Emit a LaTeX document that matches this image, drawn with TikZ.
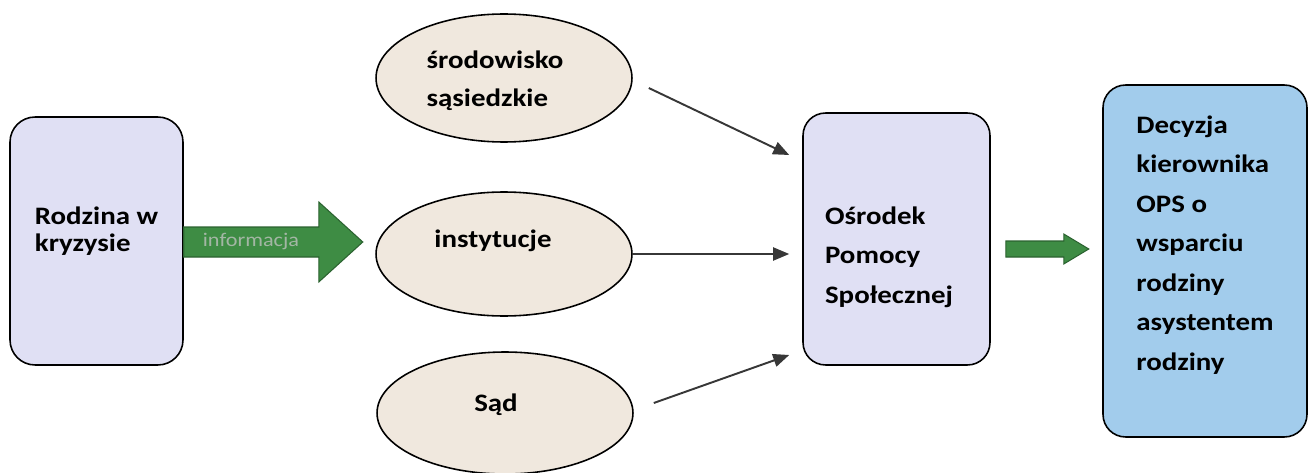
\documentclass[tikz,border=0pt]{standalone}
\usepackage{fontspec}
\setmainfont{Carlito}[FakeStretch=1.15]
\usetikzlibrary{shapes.geometric, arrows.meta, positioning, calc}
\definecolor{boxcolor}{RGB}{224,224,244}
\definecolor{ovalcolor}{RGB}{240,232,222}
\definecolor{decisioncolor}{RGB}{162,204,236}
\definecolor{arrowgreen}{RGB}{62,140,68}
\definecolor{linkcolor}{RGB}{55,55,55}

\begin{document}
\begin{tikzpicture}[
    x=0.02cm, y=-0.02cm,
    box/.style={draw, line width=0.9pt, rounded corners=0.45cm, fill=boxcolor},
    oval/.style={draw, ellipse, line width=0.9pt, fill=ovalcolor, minimum width=5.12cm},
    txt/.style={align=left, inner sep=0pt, font=\fontsize{14.3}{22.5}\selectfont\bfseries},
    link/.style={-{Triangle[length=3.2mm, width=2.6mm]}, line width=1.1pt, color=linkcolor},
    fatarrow/.style={fill=arrowgreen, draw=arrowgreen!70!black, line width=0.6pt}
]
    \useasboundingbox (0,0) rectangle (1308,473);

    % Family and sources
    \node[box, minimum width=3.46cm, minimum height=4.96cm, rounded corners=0.5cm,
          label={[txt, yshift=0.2cm, font=\fontsize{14.3}{15.5}\selectfont\bfseries]center:{Rodzina w\\kryzysie}}] (rodzina) at (96.5,241) {};
    \node[oval, minimum height=2.56cm,
          label={[txt, xshift=-0.18cm, yshift=-0.06cm, font=\fontsize{14.3}{21.5}\selectfont\bfseries]center:{środowisko\\sąsiedzkie}}] (srod) at (504,78) {};
    \node[oval, minimum height=2.48cm,
          label={[txt, xshift=-0.22cm, yshift=0.26cm]center:instytucje}] (instyt) at (504,254) {};
    \node[oval, minimum height=2.44cm,
          label={[txt, xshift=-0.18cm, yshift=0.16cm]center:Sąd}] (sad) at (505,413) {};

    % Social care centre and decision
    \node[box, minimum width=3.74cm, minimum height=5.04cm,
          label={[txt, xshift=-0.15cm, yshift=-0.36cm]center:{Ośrodek\\Pomocy\\Społecznej}}] (osrodek) at (896.5,239) {};
    \node[box, fill=decisioncolor, minimum width=4.08cm, minimum height=7.04cm,
          label={[txt, yshift=0.32cm]center:{Decyzja\\kierownika\\OPS o\\wsparciu\\rodziny\\asystentem\\rodziny}}] (decyzja) at (1205,261) {};

    % Information arrow
    \draw[fatarrow] ([yshift=0.28cm]rodzina.east) -- ++(135,0) -- ++(0,-25) -- ++(44,40)
        -- ++(-44,40) -- ++(0,-25) -- ++(-135,0) -- cycle;
    \node[font=\fontsize{11}{12}\selectfont, text=arrowgreen!40!gray!60!white] (info) at (251,242) {informacja};

    % Links
    \draw[link] ([shift={(16,10)}]srod.east) -- ([shift={(-13,-84)}]osrodek.west);
    \draw[link, shorten >=0.26cm] (instyt.east) -- (instyt.east -| osrodek.west);
    \draw[link] ([shift={(20,-10)}]sad.east) -- ([shift={(-13,116)}]osrodek.west);

    % Decision arrow
    \draw[fatarrow] ([shift={(15,2)}]osrodek.east) -- ++(58,0) -- ++(0,-7) -- ++(25,15)
        -- ++(-25,15) -- ++(0,-7) -- ++(-58,0) -- cycle;
\end{tikzpicture}
\end{document}
